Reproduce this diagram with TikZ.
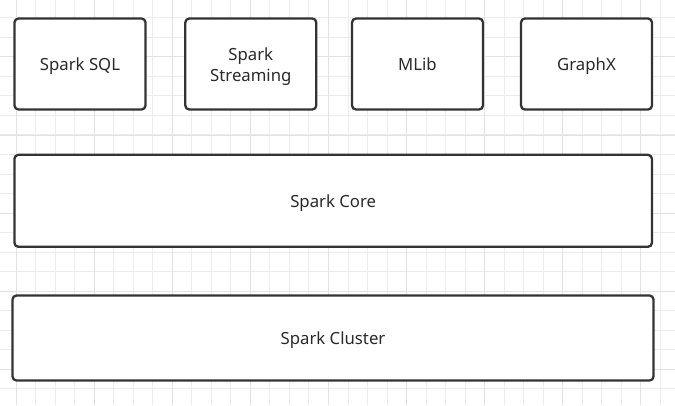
\documentclass[tikz,border=0pt]{standalone}
\usepackage{fontspec}
\setmainfont{Noto Sans}
\definecolor{gridminor}{HTML}{ECECEC}
\definecolor{gridmajor}{HTML}{E2E2E2}
\definecolor{boxline}{HTML}{333333}
\definecolor{txt}{HTML}{2A2A2A}
\begin{document}
\begin{tikzpicture}[x=1bp,y=-1bp,
  layer/.style={draw=boxline,line width=2.3bp,rounded corners=4bp,fill=white,inner sep=0pt},
  lbl/.style={text=txt,font=\fontsize{16.8}{21}\selectfont,inner sep=0pt,anchor=base}]
\useasboundingbox (0,0) rectangle (675,405);
\fill[white] (0,0) rectangle (675,405);
% grid
\foreach \k in {0,...,33}{
  \pgfmathsetmacro\xx{16+19.53*\k}
  \draw[gridminor,line width=1bp] (\xx,0) -- (\xx,405);
}
\foreach \k in {-1,...,19}{
  \pgfmathsetmacro\yy{17.8+19.53*\k}
  \draw[gridminor,line width=1bp] (0,\yy) -- (675,\yy);
}
\foreach \k in {0,...,8}{
  \pgfmathsetmacro\xx{16+78.12*\k}
  \draw[gridmajor,line width=1bp] (\xx,0) -- (\xx,405);
}
\foreach \k in {0,...,4}{
  \pgfmathsetmacro\yy{56.9+78.12*\k}
  \draw[gridmajor,line width=1bp] (0,\yy) -- (675,\yy);
}
% boxes
\node[layer,minimum width=131bp,minimum height=91bp] (sql) at (80,64) {};
\node[layer,minimum width=131bp,minimum height=91bp] (stream) at (250.8,64) {};
\node[layer,minimum width=131bp,minimum height=91bp] (mlib) at (417.5,64) {};
\node[layer,minimum width=131bp,minimum height=91bp] (graphx) at (586.5,64) {};
\node[layer,minimum width=637.5bp,minimum height=92bp] (core) at (333.2,200.8) {};
\node[layer,minimum width=641bp,minimum height=85bp] (cluster) at (333,338) {};
% labels
\node[lbl] (sqlt) at ([yshift=-6.5bp]sql.center) {Spark SQL};
\node[lbl] (streamt1) at ([yshift=4bp]stream.center) {Spark};
\node[lbl] (streamt2) at ([yshift=-17bp]stream.center) {Streaming};
\node[lbl] (mlibt) at ([yshift=-6.5bp]mlib.center) {MLib};
\node[lbl] (graphxt) at ([yshift=-6.5bp]graphx.center) {GraphX};
\node[lbl] (coret) at ([yshift=-6.5bp]core.center) {Spark Core};
\node[lbl] (clustert) at ([yshift=-6.5bp]cluster.center) {Spark Cluster};
\end{tikzpicture}
\end{document}
